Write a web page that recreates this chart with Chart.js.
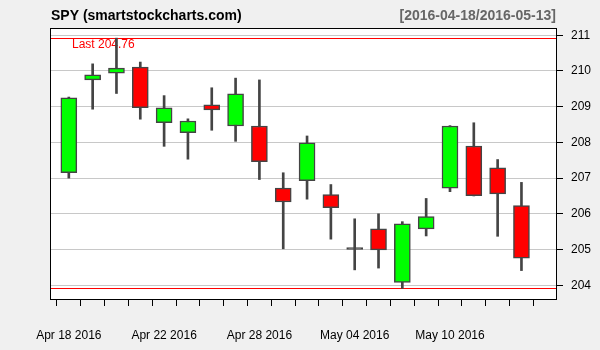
<!DOCTYPE html>
<html>
<head>
<meta charset="utf-8">
<script src="https://cdn.jsdelivr.net/npm/chart.js@4.4.1/dist/chart.umd.min.js"></script>
<style>
  html, body { margin: 0; padding: 0; background: #f0f0f0; }
  #wrap { width: 600px; height: 350px; }
</style>
</head>
<body>
<div id="wrap"><canvas id="c" width="600" height="350"></canvas></div>
<script>
const dates = ['2016-04-18','2016-04-19','2016-04-20','2016-04-21','2016-04-22',
  '2016-04-25','2016-04-26','2016-04-27','2016-04-28','2016-04-29',
  '2016-05-02','2016-05-03','2016-05-04','2016-05-05','2016-05-06',
  '2016-05-09','2016-05-10','2016-05-11','2016-05-12','2016-05-13'];
const xTickLabels = ['Apr 18 2016','','','','Apr 22 2016','','','','Apr 28 2016','',
  '','','May 04 2016','','','','May 10 2016','','',''];
const openV  = [207.15,209.75,209.94,210.11,208.55,208.27,209.05,208.46,208.46,206.72,
                206.93,206.54,205.00,205.58,204.08,205.58,206.72,207.90,207.29,206.23];
const highV  = [209.27,210.20,210.92,210.25,209.31,208.66,209.53,209.80,209.75,207.15,
                208.18,206.82,205.86,206.00,205.78,206.43,208.47,208.55,207.52,206.88];
const lowV   = [207.00,208.93,209.37,208.65,207.89,207.53,208.34,208.03,206.96,205.02,
                206.41,205.29,204.43,204.48,203.91,205.38,206.62,206.50,205.37,204.41];
const closeV = [209.25,209.89,210.08,208.97,208.97,208.60,208.91,209.36,207.46,206.33,
                207.99,206.17,205.00,204.99,205.72,205.92,208.46,206.51,206.56,204.76];
const yTicks = [204,205,206,207,208,209,210,211];

const UP = '#00ff00', DOWN = '#ff0000', EDGE = '#444444';
const FONT = '"Liberation Sans", Arial, sans-serif';

const bodyData = dates.map((d, i) => ({ x: i, y: [openV[i], closeV[i]] }));
const wickData = dates.map((d, i) => ({ x: i, y: [lowV[i], highV[i]] }));
const bodyColors = dates.map((d, i) =>
  closeV[i] === openV[i] ? EDGE : (closeV[i] > openV[i] ? UP : DOWN));

const hiAll = Math.max(...highV), loAll = Math.min(...lowV);
const lastClose = closeV[closeV.length - 1];

const decor = {
  id: 'decor',
  beforeDraw(chart) {
    const { ctx, chartArea: a } = chart;
    ctx.save();
    ctx.fillStyle = '#ffffff';
    ctx.fillRect(a.left, a.top, a.right - a.left, a.bottom - a.top);
    ctx.restore();
  },
  beforeDatasetsDraw(chart) {
    const { ctx, chartArea: a, scales } = chart;
    const y = scales.y;
    ctx.save();
    ctx.strokeStyle = '#ff0000';
    ctx.lineWidth = 1;
    [hiAll, loAll].forEach(v => {
      const py = Math.round(y.getPixelForValue(v)) + 0.5;
      ctx.beginPath(); ctx.moveTo(a.left, py); ctx.lineTo(a.right, py); ctx.stroke();
    });
    ctx.fillStyle = '#ff0000';
    ctx.font = '12px ' + FONT;
    ctx.textBaseline = 'alphabetic';
    ctx.textAlign = 'left';
    ctx.fillText('Last ' + lastClose.toFixed(2), 72, 48);
    ctx.restore();
  },
  afterDraw(chart) {
    const { ctx, chartArea: a } = chart;
    ctx.save();
    ctx.strokeStyle = '#000000';
    ctx.lineWidth = 1;
    ctx.strokeRect(Math.round(a.left) + 0.5, Math.round(a.top) + 0.5,
                   Math.round(a.right - a.left), Math.round(a.bottom - a.top));
    ctx.font = 'bold 14px ' + FONT;
    ctx.textBaseline = 'alphabetic';
    ctx.fillStyle = '#000000';
    ctx.textAlign = 'left';
    ctx.fillText('SPY (smartstockcharts.com)', 51, 20);
    ctx.fillStyle = '#666666';
    ctx.textAlign = 'right';
    ctx.fillText('[' + dates[0] + '/' + dates[dates.length - 1] + ']', 556, 20);
    ctx.restore();
  }
};

new Chart(document.getElementById('c'), {
  type: 'bar',
  data: {
    datasets: [
      {
        label: 'body',
        data: bodyData,
        backgroundColor: bodyColors,
        borderColor: EDGE,
        borderWidth: 1.5,
        borderSkipped: false,
        barThickness: 16,
        minBarLength: 2,
        grouped: false,
        order: 0
      },
      {
        label: 'wick',
        data: wickData,
        backgroundColor: EDGE,
        borderWidth: 0,
        barThickness: 2,
        grouped: false,
        order: 1
      }
    ]
  },
  options: {
    responsive: false,
    animation: false,
    events: [],
    layout: { padding: { left: 50, top: 28, right: 0, bottom: 0 } },
    plugins: { legend: { display: false }, tooltip: { enabled: false }, title: { display: false } },
    scales: {
      x: {
        type: 'linear',
        offset: false,
        min: -0.79,
        max: 20.45,
        afterBuildTicks(scale) { scale.ticks = dates.map((d, i) => ({ value: i })); },
        afterFit(scale) { scale.height = 51; },
        grid: { drawOnChartArea: false, drawTicks: true, tickLength: 7, tickColor: '#000000', color: '#000000' },
        border: { display: true, color: '#000000' },
        ticks: {
          autoSkip: false,
          maxRotation: 0,
          padding: 22,
          color: '#000000',
          font: { family: FONT, size: 12 },
          callback: (v) => xTickLabels[v] || ''
        }
      },
      y: {
        position: 'right',
        min: 203.614,
        max: 211.204,
        afterBuildTicks(scale) { scale.ticks = yTicks.map(v => ({ value: v })); },
        afterFit(scale) { scale.width = 44; },
        grid: { color: '#c8c8c8', lineWidth: 1, drawTicks: true, tickLength: 7, tickColor: '#000000' },
        border: { display: true, color: '#000000' },
        ticks: {
          padding: 8,
          color: '#000000',
          font: { family: FONT, size: 12 },
          callback: (v) => String(v)
        }
      }
    }
  },
  plugins: [decor]
});
</script>
</body>
</html>
